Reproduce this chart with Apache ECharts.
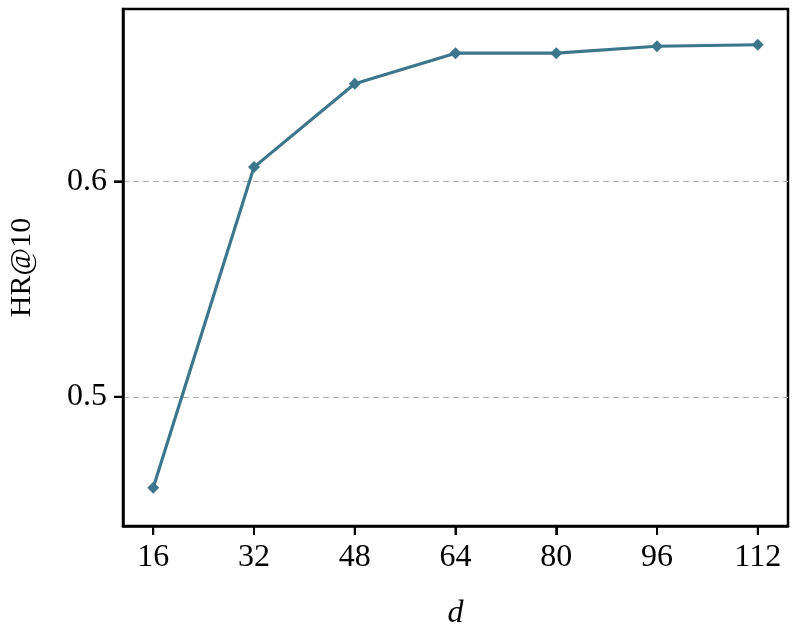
<!DOCTYPE html>
<html>
<head>
<meta charset="utf-8">
<script src="https://cdn.jsdelivr.net/npm/echarts@6/dist/echarts.min.js"></script>
<style>
  html, body { margin: 0; padding: 0; background: #fff; }
  #chart { width: 797px; height: 639px; }
</style>
</head>
<body>
<div id="chart"></div>
<script>
// values
const dims = [16, 32, 48, 64, 80, 96, 112]
const hr10 = [0.4578, 0.6066, 0.6453, 0.6595, 0.6595, 0.6627, 0.6634]
const yTicks = [0.5, 0.6]

const X_MIN = 11.2, X_MAX = 116.8
const Y_MIN = 0.44, Y_MAX = 0.68
const TICK = 9

const C = { line: '#3b768c', grid: '#b0b0b0', axis: '#000' }
const FONT = '"Liberation Serif", "DejaVu Serif", serif'

const chart = echarts.init(document.getElementById('chart'), null, { renderer: 'canvas' })

chart.setOption({
  animation: false,
  grid: {
    left: 123, top: 9, width: 665, height: 517,
    containLabel: false, outerBoundsMode: 'none',
    show: true, borderColor: C.axis, borderWidth: 2.5, backgroundColor: 'transparent',
  },
  xAxis: {
    type: 'value',
    min: X_MIN, max: X_MAX,
    name: 'd',
    nameLocation: 'middle',
    nameGap: 72,
    nameTextStyle: { fontFamily: FONT, fontStyle: 'italic', fontSize: 32, color: '#000' },
    axisLine: { show: true, lineStyle: { color: C.axis, width: 2.5 } },
    axisTick: { show: true, customValues: dims, length: TICK, lineStyle: { color: C.axis, width: 2 } },
    axisLabel: { customValues: dims, margin: 16, fontFamily: FONT, fontSize: 32, color: '#000' },
    splitLine: { show: false },
  },
  yAxis: {
    type: 'value',
    min: Y_MIN, max: Y_MAX,
    name: 'HR@10',
    nameLocation: 'middle',
    nameGap: 86,
    nameTextStyle: { fontFamily: FONT, fontSize: 30, color: '#000' },
    axisLine: { show: true, lineStyle: { color: C.axis, width: 2.5 } },
    axisTick: { show: true, customValues: yTicks, length: TICK, lineStyle: { color: C.axis, width: 2 } },
    axisLabel: { customValues: yTicks, margin: 16, fontFamily: FONT, fontSize: 32, color: '#000',
      formatter: v => v.toFixed(1) },
    splitLine: { show: true, lineStyle: { color: C.grid, type: [6, 4], width: 1.2 } },
  },
  series: [{
    type: 'line',
    data: dims.map((d, i) => [d, hr10[i]]),
    symbol: 'diamond',
    symbolSize: 12,
    lineStyle: { color: C.line, width: 3.2 },
    itemStyle: { color: C.line },
  }],
})

// tick marks: placed through the chart's own scales once the grid is laid out
const tickStyle = { stroke: C.axis, lineWidth: 2 }
const xTickMarks = dims.map(d => {
  const [px, py] = chart.convertToPixel({ gridIndex: 0 }, [d, Y_MIN])
  return { type: 'line', silent: true, z: 100, shape: { x1: px, y1: py, x2: px, y2: py + TICK }, style: tickStyle }
})
const yTickMarks = yTicks.map(v => {
  const [px, py] = chart.convertToPixel({ gridIndex: 0 }, [X_MIN, v])
  return { type: 'line', silent: true, z: 100, shape: { x1: px, y1: py, x2: px - TICK, y2: py }, style: tickStyle }
})
chart.setOption({ graphic: { elements: [...xTickMarks, ...yTickMarks] } })
</script>
</body>
</html>
